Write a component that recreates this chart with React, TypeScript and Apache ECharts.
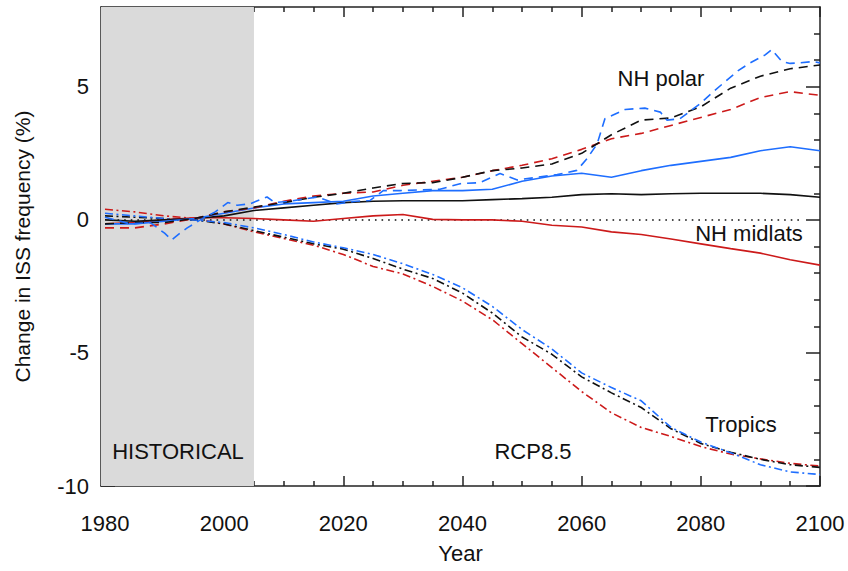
import { useEffect, useRef } from "react";
import * as echarts from "echarts";

const X_MIN = 1979.33;
const X_MAX = 2100;
const Y_MIN = -10;
const Y_MAX = 8;

const YEARS = [1980, 1985, 1990, 1995, 2000, 2005, 2010, 2015, 2020, 2025, 2030, 2035, 2040, 2045, 2050, 2055, 2060, 2065, 2070, 2075, 2080, 2085, 2090, 2095, 2100];

// NH midlats (solid)
const MIDLAT_BLACK = [0.0, -0.05, 0.0, 0.05, 0.15, 0.35, 0.45, 0.55, 0.65, 0.7, 0.72, 0.72, 0.72, 0.76, 0.8, 0.85, 0.95, 0.98, 0.95, 0.98, 1.0, 1.0, 1.0, 0.95, 0.85];
const MIDLAT_BLUE = [-0.15, -0.15, -0.05, 0.05, 0.25, 0.45, 0.6, 0.65, 0.7, 0.9, 1.0, 1.1, 1.1, 1.15, 1.45, 1.65, 1.75, 1.6, 1.85, 2.05, 2.2, 2.35, 2.6, 2.75, 2.6];
const MIDLAT_RED = [-0.15, -0.1, 0.0, 0.08, 0.08, 0.05, 0.0, -0.05, 0.05, 0.15, 0.2, 0.02, 0.0, 0.0, -0.05, -0.2, -0.27, -0.45, -0.55, -0.72, -0.9, -1.08, -1.25, -1.5, -1.7];

// NH polar (dashed)
const POLAR_BLACK = [-0.15, -0.1, -0.1, 0.05, 0.3, 0.48, 0.65, 0.85, 1.0, 1.2, 1.37, 1.4, 1.6, 1.85, 1.95, 2.1, 2.5, 3.2, 3.75, 3.83, 4.25, 4.95, 5.4, 5.68, 5.82];
const POLAR_RED = [-0.3, -0.3, -0.15, 0.05, 0.3, 0.45, 0.7, 0.9, 1.0, 1.05, 1.3, 1.45, 1.6, 1.85, 2.05, 2.3, 2.65, 3.05, 3.25, 3.55, 3.85, 4.15, 4.6, 4.82, 4.68];
const POLAR_BLUE_YEARS = [1980, 1984.2, 1987.6, 1990, 1991.2, 1992.6, 1993.8, 1996, 1998.5, 2000.6, 2002.2, 2004.3, 2007.2, 2008.5, 2011, 2015.6, 2018.9, 2022, 2024.5, 2026.7, 2029.5, 2036.2, 2039.6, 2042.9, 2046.3, 2049.2, 2052.5, 2055.9, 2059.2, 2060.9, 2062.6, 2063.9, 2067.3, 2070.6, 2073.2, 2074.3, 2076.5, 2079.9, 2082, 2084.1, 2086.2, 2088.3, 2090.8, 2091.9, 2093.6, 2095, 2096.6, 2098.8, 2100];
const POLAR_BLUE = [0.1, -0.15, -0.1, -0.5, -0.75, -0.5, -0.3, 0.0, 0.3, 0.65, 0.55, 0.6, 0.86, 0.65, 0.7, 0.86, 0.6, 0.7, 0.73, 1.1, 1.1, 1.15, 1.36, 1.4, 1.74, 1.5, 1.6, 1.7, 1.86, 2.3, 2.86, 3.8, 4.15, 4.2, 4.05, 3.75, 3.8, 4.37, 4.8, 5.2, 5.6, 5.9, 6.2, 6.4, 5.95, 5.88, 5.9, 5.95, 5.9];

// Tropics (dash-dot)
const TROPICS_BLACK = [0.15, 0.1, 0.05, 0.0, -0.15, -0.4, -0.65, -0.9, -1.1, -1.45, -1.85, -2.2, -2.75, -3.5, -4.4, -5.05, -5.9, -6.5, -7.05, -7.85, -8.4, -8.73, -9.0, -9.2, -9.3];
const TROPICS_BLUE = [0.25, 0.15, 0.05, 0.0, -0.1, -0.3, -0.55, -0.83, -1.05, -1.3, -1.65, -2.05, -2.55, -3.25, -4.12, -4.85, -5.75, -6.3, -6.8, -7.8, -8.35, -8.75, -9.2, -9.47, -9.57];
const TROPICS_RED = [0.4, 0.3, 0.15, 0.05, -0.15, -0.45, -0.7, -0.95, -1.3, -1.75, -2.03, -2.5, -3.05, -3.75, -4.65, -5.55, -6.45, -7.25, -7.8, -8.14, -8.52, -8.8, -8.98, -9.15, -9.25];

const ZERO_LINE_YEARS = [1981, 2097];
const HISTORICAL_END = 2005;

const X_LABELS = [1980, 2000, 2020, 2040, 2060, 2080, 2100];
const X_MINOR = [1985, 1990, 1995, 2005, 2010, 2015, 2025, 2030, 2035, 2045, 2050, 2055, 2065, 2070, 2075, 2085, 2090, 2095];
const Y_LABELS = [-10, -5, 0, 5];
const Y_MINOR = [-9, -8, -7, -6, -4, -3, -2, -1, 1, 2, 3, 4, 6, 7];

const BLACK = "#111111";
const BLUE = "#1e6eff";
const RED = "#cc1a1a";
const FONT = "'Liberation Sans', Arial, sans-serif";

export default function App() {
  const ref = useRef<HTMLDivElement>(null);
  useEffect(() => {
    if (!ref.current) return;
    const chart = echarts.init(ref.current, null, { renderer: "svg" });
    const axisLine = { show: true, onZero: false, lineStyle: { color: "#222", width: 1.5 } };
    const tickStyle = { color: "#222", width: 1.5 };
    const mkX = (pos: string, major: boolean, showLine: boolean, labels: boolean) => ({
      type: "value",
      position: pos,
      min: X_MIN,
      max: X_MAX,
      axisLine: showLine ? axisLine : { show: false, onZero: false },
      axisTick: { show: true, inside: true, length: major ? 10 : 5, customValues: major ? X_LABELS : X_MINOR, lineStyle: tickStyle },
      axisLabel: labels
        ? { show: true, customValues: X_LABELS, formatter: (v: number) => String(v), fontSize: 22, fontFamily: FONT, color: BLACK, margin: 26 }
        : { show: false },
      splitLine: { show: false },
      ...(labels ? { name: "Year", nameLocation: "middle", nameGap: 56, nameTextStyle: { fontSize: 22, fontFamily: FONT, color: BLACK } } : {}),
    });
    const mkY = (pos: string, major: boolean, showLine: boolean, labels: boolean) => ({
      type: "value",
      position: pos,
      min: Y_MIN,
      max: Y_MAX,
      axisLine: showLine ? axisLine : { show: false, onZero: false },
      axisTick: { show: true, inside: true, length: major ? 14 : 6, customValues: major ? Y_LABELS : Y_MINOR, lineStyle: tickStyle },
      axisLabel: labels
        ? { show: true, customValues: Y_LABELS, formatter: (v: number) => String(v), fontSize: 22, fontFamily: FONT, color: BLACK, margin: 12 }
        : { show: false },
      splitLine: { show: false },
      ...(labels ? { name: "Change in ISS frequency (%)", nameLocation: "middle", nameGap: 68, nameTextStyle: { fontSize: 21, fontFamily: FONT, color: BLACK } } : {}),
    });
    const pair = (xs: number[], ys: number[]) => xs.map((x, i) => [x, ys[i]]);
    const line = (name: string, data: number[][], color: string, type: any, z = 3) => ({
      name,
      type: "line",
      data,
      showSymbol: false,
      symbol: "none",
      z,
      lineStyle: { color, width: 1.6, type },
    });
    const DASH = [9, 6];
    const DASHDOT = [8, 3.5, 2, 3.5];
    chart.setOption({
      animation: false,
      grid: { left: 101, right: 28, top: 7, bottom: 85 },
      xAxis: [mkX("bottom", true, true, true), mkX("bottom", false, false, false), mkX("top", true, true, false), mkX("top", false, false, false)],
      yAxis: [mkY("left", true, true, true), mkY("left", false, false, false), mkY("right", true, true, false), mkY("right", false, false, false)],
      series: [
        {
          name: "zero",
          type: "line",
          data: ZERO_LINE_YEARS.map((x) => [x, 0]),
          showSymbol: false,
          symbol: "none",
          z: 2,
          lineStyle: { color: "#111", width: 1.5, type: [1.6, 5] },
          markArea: {
            silent: true,
            itemStyle: { color: "#dadada" },
            data: [[{ xAxis: X_MIN }, { xAxis: HISTORICAL_END }]],
          },
        },
        line("Tropics red", pair(YEARS, TROPICS_RED), RED, DASHDOT),
        line("Tropics black", pair(YEARS, TROPICS_BLACK), BLACK, DASHDOT),
        line("Tropics blue", pair(YEARS, TROPICS_BLUE), BLUE, DASHDOT),
        line("Midlats red", pair(YEARS, MIDLAT_RED), RED, "solid"),
        line("Midlats black", pair(YEARS, MIDLAT_BLACK), BLACK, "solid"),
        line("Midlats blue", pair(YEARS, MIDLAT_BLUE), BLUE, "solid"),
        line("Polar red", pair(YEARS, POLAR_RED), RED, DASH),
        line("Polar black", pair(YEARS, POLAR_BLACK), BLACK, DASH),
        line("Polar blue", pair(POLAR_BLUE_YEARS, POLAR_BLUE), BLUE, DASH),
      ],
      graphic: [
        { type: "text", x: 661, y: 78, z: 10, style: { text: "NH polar", fontSize: 22, fontFamily: FONT, fill: BLACK, align: "center", verticalAlign: "middle", textAlign: "center", textVerticalAlign: "middle" } },
        { type: "text", x: 749, y: 233, z: 10, style: { text: "NH midlats", fontSize: 22, fontFamily: FONT, fill: BLACK, align: "center", verticalAlign: "middle", textAlign: "center", textVerticalAlign: "middle" } },
        { type: "text", x: 741, y: 424, z: 10, style: { text: "Tropics", fontSize: 22, fontFamily: FONT, fill: BLACK, align: "center", verticalAlign: "middle", textAlign: "center", textVerticalAlign: "middle" } },
        { type: "text", x: 178, y: 451, z: 10, style: { text: "HISTORICAL", fontSize: 22, fontFamily: FONT, fill: BLACK, align: "center", verticalAlign: "middle", textAlign: "center", textVerticalAlign: "middle" } },
        { type: "text", x: 533, y: 451, z: 10, style: { text: "RCP8.5", fontSize: 22, fontFamily: FONT, fill: BLACK, align: "center", verticalAlign: "middle", textAlign: "center", textVerticalAlign: "middle" } },
      ],
    });
    return () => chart.dispose();
  }, []);
  return <div ref={ref} style={{ position: "absolute", left: 0, top: 0, width: 848, height: 571, background: "#fff" }} />;
}
